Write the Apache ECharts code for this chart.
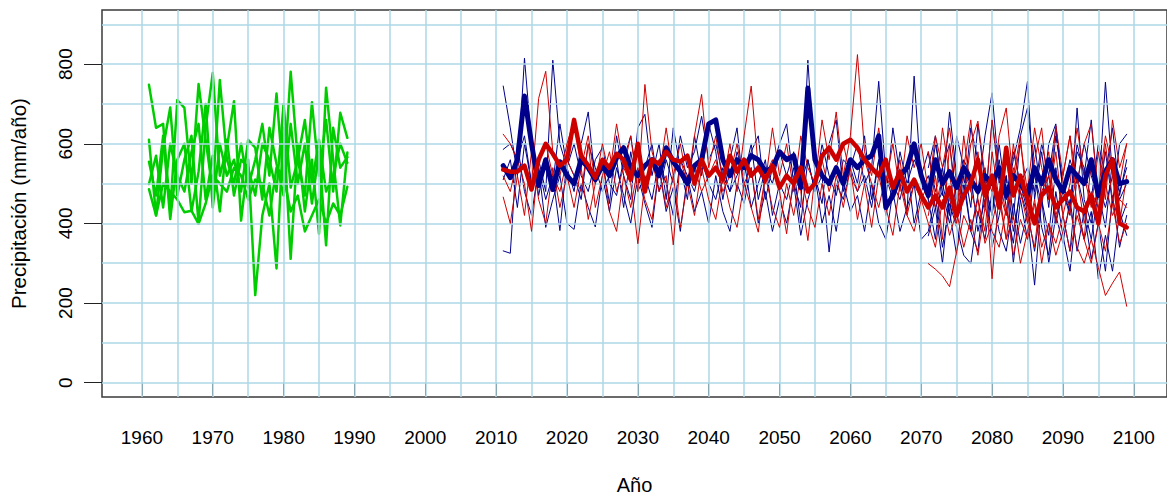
<!DOCTYPE html>
<html>
<head>
<meta charset="utf-8">
<title>Precipitación</title>
<script src="https://cdn.jsdelivr.net/npm/echarts@6/dist/echarts.min.js"></script>
<style>
    html, body { margin: 0; padding: 0; background: #fff; overflow: hidden; }
    #chart { width: 1167px; height: 500px; }
</style>
</head>
<body>
<div id="chart"></div>
<script>
// axis ticks and grid
var xTicks = [1960, 1970, 1980, 1990, 2000, 2010, 2020, 2030, 2040, 2050, 2060, 2070, 2080, 2090, 2100];
var yTicks = [0, 200, 400, 600, 800];
var gridX = [1960, 1965, 1970, 1975, 1980, 1985, 1990, 1995, 2000, 2005, 2010, 2015, 2020, 2025, 2030, 2035,
             2040, 2045, 2050, 2055, 2060, 2065, 2070, 2075, 2080, 2085, 2090, 2095, 2100];
var gridY = [0, 100, 200, 300, 400, 500, 600, 700, 800, 900];

// first year of each group
var histStart = 1961;
var futStart = 2011;
var lateStart = 2071;

// observed 1961-1989
var obs1 = [748, 640, 650, 430, 710, 690, 500, 750, 610, 480, 760, 560, 500, 600, 490, 560, 650, 520, 726, 500, 781, 560, 470, 704, 520, 660, 480, 678, 615];
var obs2 = [610, 420, 590, 691, 470, 560, 620, 400, 640, 778, 520, 590, 707, 407, 560, 220, 420, 500, 287, 640, 311, 600, 430, 560, 374, 741, 560, 395, 578];
var obs3 = [555, 470, 620, 411, 560, 600, 430, 530, 700, 440, 600, 520, 560, 480, 610, 590, 460, 640, 550, 470, 650, 500, 600, 450, 580, 345, 640, 540, 566];
var obs4 = [499, 570, 440, 600, 520, 480, 580, 650, 460, 570, 430, 610, 470, 560, 540, 470, 600, 560, 480, 700, 490, 560, 660, 500, 610, 480, 520, 600, 552];
var obs5 = [486, 420, 500, 480, 460, 428, 432, 399, 450, 520, 500, 480, 540, 520, 460, 510, 500, 420, 540, 520, 430, 470, 380, 420, 460, 400, 450, 420, 492];

// blue models 2011-2099
var blue1 = [745, 640, 520, 815, 600, 470, 560, 500, 650, 540,
             480, 600, 680, 500, 560, 450, 620, 520, 460, 640,
             674, 520, 600, 460, 640, 540, 460, 620, 520, 650,
             580, 460, 560, 640, 470, 580, 620, 460, 540, 600,
             650, 500, 440, 810, 520, 450, 600, 660, 480, 560,
             500, 620, 460, 560, 460, 640, 520, 430, 770, 500,
             460, 600, 500, 420, 620, 540, 440, 650, 500, 420,
             600, 460, 560, 640, 757, 460, 580, 440, 620, 500,
             440, 600, 520, 660, 460, 580, 450, 600, 624];
var blue2 = [586, 600, 560, 620, 500, 560, 480, 810, 600, 540,
             600, 520, 480, 560, 590, 500, 470, 560, 620, 500,
             540, 600, 480, 560, 500, 620, 540, 580, 669, 560,
             600, 520, 480, 580, 520, 600, 460, 540, 500, 580,
             520, 580, 500, 560, 480, 600, 520, 470, 560, 540,
             600, 500, 540, 757, 520, 460, 580, 500, 560, 520,
             580, 480, 540, 600, 460, 560, 520, 480, 620, 728,
             520, 460, 580, 500, 540, 480, 600, 520, 640, 480,
             560, 500, 600, 520, 460, 755, 520, 480, 540];
var blue3 = [510, 560, 440, 600, 500, 540, 460, 520, 382, 560,
             520, 460, 600, 540, 480, 520, 560, 440, 580, 480,
             520, 460, 560, 500, 420, 560, 520, 480, 560, 500,
             460, 540, 480, 520, 560, 440, 500, 560, 420, 500,
             460, 540, 400, 560, 480, 520, 328, 500, 460, 540,
             480, 520, 440, 560, 420, 500, 460, 540, 400, 480,
             520, 440, 480, 400, 500, 460, 520, 380, 460, 500,
             440, 520, 380, 480, 420, 245, 460, 520, 400, 480,
             420, 690, 460, 400, 500, 440, 520, 460, 500];
var blue4 = [331, 325, 600, 480, 420, 540, 390, 460, 520, 400,
             385, 500, 440, 391, 520, 430, 540, 470, 400, 520,
             450, 390, 540, 430, 490, 380, 520, 430, 480, 400,
             520, 430, 380, 500, 450, 540, 400, 480, 380, 460,
             400, 500, 370, 460, 520, 400, 470, 380, 500, 430,
             470, 380, 500, 400, 360, 480, 380, 440, 500, 360,
             380, 470, 340, 450, 390, 320, 299, 430, 360, 480,
             380, 330, 450, 350, 430, 330, 460, 300, 420, 350,
             460, 330, 430, 310, 400, 280, 470, 340, 420];
// blue models 2071-2099
var blueLate1 = [369, 440, 300, 480, 400, 520, 380, 330, 500, 420, 560, 440, 350, 500, 430, 600, 460, 370, 540, 420, 330, 520, 440, 360, 480, 390, 560, 400, 450];
var blueLate2 = [540, 620, 470, 680, 520, 460, 640, 560, 440, 660, 500, 580, 410, 620, 690, 520, 450, 600, 650, 480, 430, 580, 540, 460, 600, 520, 640, 470, 560];
var blueLate3 = [460, 360, 540, 430, 320, 500, 380, 470, 540, 340, 420, 520, 300, 460, 360, 540, 390, 320, 480, 370, 280, 450, 360, 430, 260, 370, 280, 430, 370];

// red models 2011-2099
var red1 = [624, 600, 560, 540, 500, 714, 782, 580, 520, 600,
            660, 540, 620, 500, 600, 520, 650, 540, 620, 480,
            749, 580, 520, 640, 520, 600, 500, 620, 724, 540,
            620, 500, 600, 480, 620, 745, 540, 500, 640, 520,
            600, 480, 620, 540, 500, 660, 560, 680, 520, 620,
            824, 580, 520, 640, 500, 600, 480, 620, 540, 600,
            480, 620, 540, 640, 500, 460, 600, 657, 520, 480,
            620, 690, 500, 600, 480, 640, 540, 460, 645, 520,
            620, 500, 600, 650, 480, 620, 540, 500, 600];
var red2 = [519, 480, 560, 500, 380, 560, 600, 520, 480, 560,
            520, 480, 600, 440, 520, 580, 480, 540, 500, 349,
            500, 560, 480, 520, 346, 560, 500, 540, 480, 520,
            560, 480, 520, 600, 500, 440, 378, 520, 560, 480,
            374, 520, 480, 357, 520, 560, 480, 540, 600, 520,
            480, 560, 500, 440, 520, 480, 560, 420, 500, 460,
            500, 440, 520, 460, 400, 540, 480, 420, 520, 261,
            480, 420, 540, 460, 500, 400, 480, 520, 420, 480,
            440, 520, 400, 480, 440, 500, 420, 460, 440];
var red3 = [466, 400, 520, 420, 580, 460, 400, 540, 440, 520,
            440, 540, 410, 500, 560, 430, 380, 520, 440, 540,
            460, 410, 540, 440, 520, 390, 500, 420, 540, 460,
            410, 520, 440, 390, 500, 540, 410, 520, 440, 390,
            500, 420, 520, 440, 390, 500, 420, 520, 440, 540,
            410, 500, 390, 520, 440, 370, 500, 420, 380, 460,
            400, 340, 460, 370, 430, 340, 410, 320, 440, 380,
            340, 440, 320, 410, 360, 450, 300, 400, 350, 420,
            330, 420, 360, 300, 400, 330, 450, 350, 400];
// red models 2071-2099
var redLate1 = [299, 285, 268, 241, 330, 420, 380, 460, 350, 400, 480, 360, 420, 300, 380, 460, 340, 400, 320, 380, 440, 340, 300, 360, 289, 219, 250, 278, 192];
var redLate2 = [420, 520, 360, 600, 430, 540, 660, 460, 380, 580, 460, 360, 520, 620, 420, 340, 500, 580, 400, 520, 620, 440, 360, 560, 430, 600, 460, 400, 520];
var redLate3 = [580, 460, 640, 520, 420, 620, 480, 580, 440, 660, 520, 420, 600, 480, 400, 560, 640, 460, 580, 420, 500, 640, 520, 440, 580, 460, 660, 540, 600];

// ensemble means 2011-2099
var blueMean = [545, 515, 560, 720, 600, 495, 560, 485, 555, 520,
                500, 560, 540, 510, 545, 520, 565, 590, 540, 520,
                545, 560, 520, 590, 555, 530, 500, 545, 560, 650,
                660, 560, 520, 560, 540, 570, 560, 530, 540, 580,
                560, 570, 490, 740, 560, 520, 500, 540, 500, 560,
                540, 560, 570, 620, 440, 470, 520, 540, 600, 520,
                470, 560, 500, 530, 490, 540, 510, 480, 520, 500,
                540, 470, 520, 500, 470, 540, 500, 560, 510, 480,
                540, 520, 500, 560, 470, 530, 560, 500, 505];
var redMean = [535, 530, 530, 545, 485, 560, 600, 575, 545, 560,
               660, 570, 545, 515, 560, 540, 575, 560, 510, 600,
               480, 560, 550, 580, 560, 555, 570, 500, 560, 520,
               540, 510, 570, 530, 560, 520, 540, 510, 545, 490,
               520, 500, 540, 480, 500, 570, 590, 560, 600, 610,
               590, 560, 540, 520, 560, 490, 530, 480, 510, 470,
               440, 470, 440, 490, 420, 470, 500, 560, 470, 520,
               440, 590, 470, 520, 460, 400, 470, 490, 440, 460,
               480, 440, 430, 470, 400, 520, 560, 400, 390];

var GREEN = '#00cd00', BLUE = '#00008b', RED = '#cd0000';
var FONT = "'Liberation Sans', Arial, sans-serif";

function pairs(start, vals) {
    return vals.map(function (v, i) { return [start + i, v]; });
}

function line(start, vals, color, width, z) {
    return {
        type: 'line',
        data: pairs(start, vals),
        showSymbol: false,
        symbol: 'none',
        silent: true,
        z: z,
        lineStyle: { color: color, width: width, join: 'round', cap: 'round' },
        itemStyle: { color: color },
        emphasis: { disabled: true }
    };
}

var series = [{
    // light blue grid lines
    type: 'line',
    data: [],
    silent: true,
    z: 1,
    markLine: {
        silent: true,
        animation: false,
        symbol: ['none', 'none'],
        label: { show: false },
        lineStyle: { color: '#add8e6', width: 1.5, type: 'solid' },
        emphasis: { disabled: true },
        data: gridX.map(function (v) { return { xAxis: v }; })
            .concat(gridY.map(function (v) { return { yAxis: v }; }))
    }
}];

[obs1, obs2, obs3, obs4, obs5].forEach(function (s) { series.push(line(histStart, s, GREEN, 2.5, 3)); });
[blue1, blue2, blue3, blue4].forEach(function (s) { series.push(line(futStart, s, BLUE, 1, 4)); });
[blueLate1, blueLate2, blueLate3].forEach(function (s) { series.push(line(lateStart, s, BLUE, 1, 4)); });
[red1, red2, red3].forEach(function (s) { series.push(line(futStart, s, RED, 1, 5)); });
[redLate1, redLate2, redLate3].forEach(function (s) { series.push(line(lateStart, s, RED, 1, 5)); });
series.push(line(futStart, blueMean, BLUE, 5, 6));
series.push(line(futStart, redMean, RED, 4.5, 7));

function plain(v) { return String(v); }

var myChart = echarts.init(document.getElementById('chart'), null, { renderer: 'svg' });
myChart.setOption({
    animation: false,
    backgroundColor: '#ffffff',
    grid: {
        left: 101, top: 10, right: -2, bottom: 101,
        show: true, borderColor: '#3a3a3a', borderWidth: 1.5, backgroundColor: 'transparent'
    },
    xAxis: {
        type: 'value',
        min: 1954.37,
        max: 2104.69,
        name: 'Año',
        nameLocation: 'middle',
        nameGap: 78,
        nameTextStyle: { fontFamily: FONT, fontSize: 20, color: '#000' },
        axisLine: { show: false },
        splitLine: { show: false },
        axisTick: { show: true, customValues: xTicks, length: 13, lineStyle: { color: '#222', width: 1 } },
        axisLabel: { customValues: xTicks, formatter: plain, margin: 31, fontFamily: FONT, fontSize: 19, color: '#000' }
    },
    yAxis: {
        type: 'value',
        min: -36,
        max: 936,
        name: 'Precipitación (mm/año)',
        nameLocation: 'middle',
        nameGap: 73,
        nameTextStyle: { fontFamily: FONT, fontSize: 20.5, color: '#000' },
        axisLine: { show: false },
        splitLine: { show: false },
        axisTick: { show: true, customValues: yTicks, length: 18, lineStyle: { color: '#222', width: 1 } },
        axisLabel: { customValues: yTicks, formatter: plain, rotate: 90, margin: 27, fontFamily: FONT, fontSize: 19, color: '#000' }
    },
    series: series
});
</script>
</body>
</html>
